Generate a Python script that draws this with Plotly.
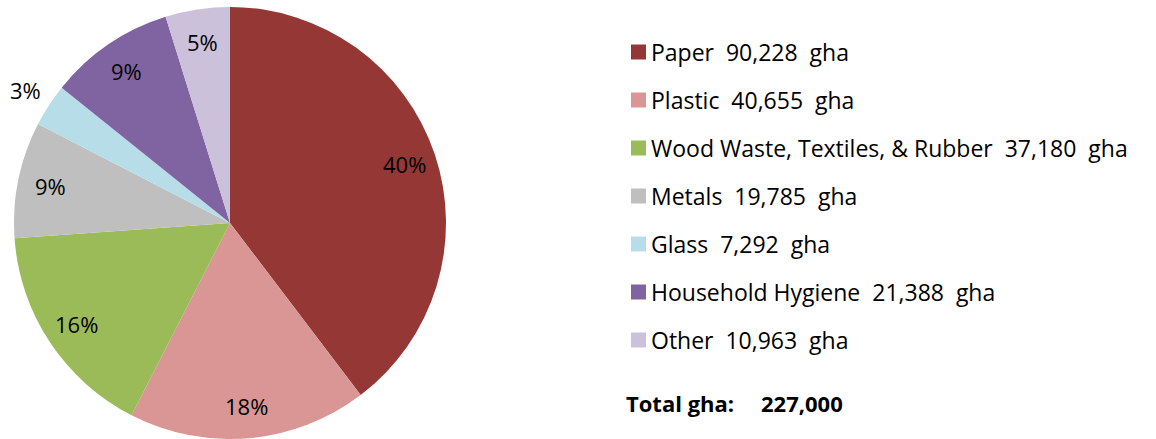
import math
import plotly.graph_objects as go

# Waste footprint by category (global hectares)
categories = ["Paper", "Plastic", "Wood Waste, Textiles, & Rubber", "Metals",
              "Glass", "Household Hygiene", "Other"]
gha_values = [90228, 40655, 37180, 19785, 7292, 21388, 10963]
colors = ["#953735", "#D99694", "#9BBB59", "#BFBFBF", "#B7DEE8", "#8064A2", "#CCC1DA"]
label_outside = [False, False, False, False, True, False, False]
total_label = "Total gha:"
total_value = "227,000"

W, H = 1156, 439
FONT = "Open Sans, sans-serif"

# pie geometry in pixels
CX, CY, R = 230, 223, 216

fig = go.Figure()
fig.add_trace(go.Pie(
    labels=categories,
    values=gha_values,
    sort=False,
    direction="clockwise",
    rotation=0,
    marker=dict(colors=colors, line=dict(width=0)),
    textinfo="none",
    showlegend=False,
    domain=dict(x=[(CX - R) / W, (CX + R) / W], y=[1 - (CY + R) / H, 1 - (CY - R) / H]),
    hoverinfo="label+value+percent",
))

# percentage labels placed along each slice's bisector
total = sum(gha_values)
cum = 0
for v, out in zip(gha_values, label_outside):
    mid = (cum + v / 2) / total * 2 * math.pi
    cum += v
    rf = 1.13 if out else 0.85
    fig.add_annotation(
        xref="x", yref="y",
        x=CX + rf * R * math.sin(mid), y=CY - rf * R * math.cos(mid),
        text=f"{round(100 * v / total)}%", showarrow=False,
        xanchor="center", yanchor="middle",
        font=dict(family=FONT, size=22, color="#000000"),
    )

# Custom legend: colour swatch + label with value
row0, row_gap = 52, 48
sq = 15
for i, (name, val, col) in enumerate(zip(categories, gha_values, colors)):
    yc = row0 + i * row_gap
    fig.add_shape(type="rect", xref="paper", yref="paper",
                  x0=631 / W, x1=(631 + sq) / W,
                  y0=1 - (yc + sq / 2) / H, y1=1 - (yc - sq / 2) / H,
                  fillcolor=col, line=dict(width=0))
    fig.add_annotation(xref="paper", yref="paper", x=649 / W, y=1 - yc / H,
                       xanchor="left", yanchor="middle", showarrow=False,
                       text=f"{name}\u00a0\u00a0{val:,}\u00a0\u00a0gha",
                       font=dict(family=FONT, size=23, color="#000000"))

total_y = 1 - 403 / H
fig.add_annotation(xref="paper", yref="paper", x=624 / W, y=total_y,
                   xanchor="left", yanchor="middle", showarrow=False,
                   text=f"<b>{total_label}</b>",
                   font=dict(family=FONT, size=22, color="#000000"))
fig.add_annotation(xref="paper", yref="paper", x=759 / W, y=total_y,
                   xanchor="left", yanchor="middle", showarrow=False,
                   text=f"<b>{total_value}</b>",
                   font=dict(family=FONT, size=22, color="#000000"))

fig.update_layout(
    width=W, height=H,
    margin=dict(l=0, r=0, t=0, b=0),
    paper_bgcolor="white",
    plot_bgcolor="rgba(0,0,0,0)",
    xaxis=dict(range=[0, W], visible=False, fixedrange=True),
    yaxis=dict(range=[H, 0], visible=False, fixedrange=True),
)

fig.write_html("out.html")
